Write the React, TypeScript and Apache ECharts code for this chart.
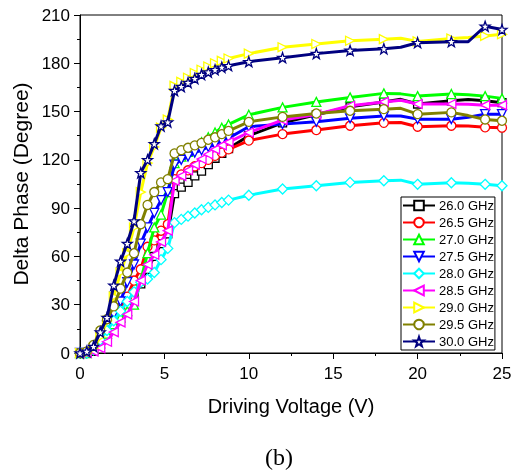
import React, { useEffect, useRef } from "react";
import * as echarts from "echarts";

const voltages = [0, 0.4, 0.8, 1.2, 1.6, 2.0, 2.4, 2.8, 3.2, 3.6, 4.0, 4.4, 4.8, 5.2, 5.6, 6.0, 6.4, 6.8, 7.2, 7.6, 8.0, 8.4, 8.8, 10, 12, 14, 16, 18, 19, 20, 22, 23, 24, 25];
const unmarkedVoltages = [19, 23];

const seriesNames = ["26.0 GHz", "26.5 GHz", "27.0 GHz", "27.5 GHz", "28.0 GHz", "28.5 GHz", "29.0 GHz", "29.5 GHz", "30.0 GHz"];

const phase260 = [0, 0, 1, 5, 10, 16, 22, 28, 35, 43, 52, 60, 68, 74, 99, 103, 106, 110, 113, 117, 121, 124, 127, 135, 143, 148, 153, 156, 157.6, 154.7, 156.7, 157.5, 156.7, 155.5];
const phase265 = [0, 0, 2, 7, 13, 20, 27, 35, 45, 52, 66, 70, 76, 80, 108, 111, 113.5, 116, 118, 120, 122.5, 124.5, 126.5, 132, 136, 138.5, 141.2, 143, 143.2, 140.6, 141.2, 141, 140.2, 140];
const phase270 = [0, 0, 2, 6, 12, 18, 22, 26, 30, 45, 62, 78, 86, 100, 118, 122, 125, 128, 131, 134, 137, 140, 142, 148, 152.6, 156, 158.8, 161.3, 161, 159.6, 160.9, 160.5, 159.6, 158.2];
const phase275 = [0, 0, 3, 10, 17, 24, 32, 44, 55, 68, 78, 87, 95, 100, 117, 120, 122, 124.5, 126, 128, 129.5, 131.5, 133.5, 140.6, 142.2, 143.7, 145.8, 147.2, 147.2, 145.3, 145.3, 146.5, 148.4, 148.4];
const phase280 = [0, 0, 2, 8, 14, 20, 26, 32, 38, 44, 46, 50, 58, 65, 81, 83, 85, 87, 89, 90.5, 92, 93.5, 95, 98, 101.9, 103.9, 106, 107, 107.4, 104.8, 105.8, 105.5, 104.8, 103.9];
const phase285 = [0, 0, 1, 3, 7, 13, 19, 24, 32, 45, 55, 61, 69, 76, 107, 110, 113.5, 117, 120.5, 123.5, 126.5, 129, 131, 137, 144.7, 148.2, 153.6, 156, 157, 154.7, 154.7, 154.5, 154, 154];
const phase290 = [0, 0, 3, 10, 20, 35, 50, 62, 78, 100, 118, 128, 140, 145, 166, 168.5, 171, 174, 176, 178, 180, 181.5, 183, 186, 190, 192, 194, 195, 195.5, 193.6, 195.4, 196, 197, 198];
const phase295 = [0, 1, 5, 14, 21, 29, 40, 50, 62, 80, 92, 100, 106, 108, 124, 126, 127.5, 129, 130.5, 132.5, 134, 136, 138, 143.6, 146.7, 148.8, 150.5, 151.5, 152, 148.4, 149.5, 147.5, 145.1, 144.3];
const phase300 = [0, 1, 4, 13, 22, 42, 57, 68, 82, 112, 120, 130, 141, 143.5, 163, 165.5, 168, 170.5, 173, 174.5, 176, 177.5, 178.5, 181, 183.5, 186, 188, 189, 190, 192.8, 193.4, 193.4, 203, 201];

const xTicks = { min: 0, max: 25, interval: 5 };
const yTicks = { min: 0, max: 210, interval: 30 };

const STAR = "path://M0,-10 L2.35,-3.24 9.51,-3.09 3.8,1.24 5.88,8.09 0,4 -5.88,8.09 -3.8,1.24 -9.51,-3.09 -2.35,-3.24Z";

const styles = [
  { color: "#000000", symbol: "rect", rotate: 0, size: 8 },
  { color: "#ff0000", symbol: "circle", rotate: 0, size: 9 },
  { color: "#00ff00", symbol: "triangle", rotate: 0, size: 9 },
  { color: "#0000ff", symbol: "triangle", rotate: 180, size: 9 },
  { color: "#00ffff", symbol: "diamond", rotate: 0, size: 10 },
  { color: "#ff00ff", symbol: "triangle", rotate: 90, size: 9 },
  { color: "#ffff00", symbol: "triangle", rotate: -90, size: 9 },
  { color: "#808000", symbol: "circle", rotate: 0, size: 9 },
  { color: "#000080", symbol: STAR, rotate: 0, size: 10 },
];

const allPhases = [phase260, phase265, phase270, phase275, phase280, phase285, phase290, phase295, phase300];

const FONT = '"Liberation Sans", Arial, sans-serif';

export default function App() {
  const ref = useRef<HTMLDivElement>(null);
  useEffect(() => {
    if (!ref.current) return;
    const chart = echarts.init(ref.current, null, { renderer: "svg" });
    const series = allPhases.map((vals, i) => {
      const st = styles[i];
      return {
        name: seriesNames[i],
        type: "line",
        data: voltages.map((v, j) =>
          unmarkedVoltages.includes(v)
            ? { value: [v, vals[j]], symbol: "none" }
            : { value: [v, vals[j]] }
        ),
        symbol: st.symbol,
        symbolSize: st.size,
        symbolRotate: st.rotate,
        showAllSymbol: true,
        lineStyle: { color: st.color, width: 3 },
        itemStyle: { color: "#ffffff", borderColor: st.color, borderWidth: 1.3 },
        emphasis: { disabled: true },
        clip: false,
        z: 2 + i,
      };
    });
    chart.setOption({
      animation: false,
      grid: { left: 80, right: 14, top: 15, bottom: 121, show: true, borderColor: "#000", borderWidth: 1, backgroundColor: "transparent" },
      xAxis: {
        type: "value",
        min: xTicks.min,
        max: xTicks.max,
        interval: xTicks.interval,
        name: "Driving Voltage (V)",
        nameLocation: "middle",
        nameGap: 43,
        nameTextStyle: { fontSize: 20, color: "#000", fontFamily: FONT },
        axisLine: { lineStyle: { color: "#000", width: 1 } },
        axisTick: { show: true, length: 6, lineStyle: { color: "#000" } },
        minorTick: { show: true, splitNumber: 2, length: 3, lineStyle: { color: "#000" } },
        axisLabel: { fontSize: 17, color: "#000", fontFamily: FONT, margin: 12 },
        splitLine: { show: false },
      },
      yAxis: {
        type: "value",
        min: yTicks.min,
        max: yTicks.max,
        interval: yTicks.interval,
        name: "Delta Phase (Degree)",
        nameLocation: "middle",
        nameGap: 48,
        nameTextStyle: { fontSize: 21, color: "#000", fontFamily: FONT },
        axisLine: { show: true, lineStyle: { color: "#000", width: 1 } },
        axisTick: { show: true, length: 6, lineStyle: { color: "#000" } },
        minorTick: { show: true, splitNumber: 2, length: 3, lineStyle: { color: "#000" } },
        axisLabel: { fontSize: 17, color: "#000", fontFamily: FONT, margin: 10 },
        splitLine: { show: false },
      },
      legend: {
        orient: "vertical",
        left: 401,
        top: 197,
        itemWidth: 32,
        itemHeight: 12,
        itemGap: 4,
        padding: [2, 1, 2, 1],
        borderColor: "#000",
        borderWidth: 1,
        backgroundColor: "#fff",
        borderRadius: 0,
        textStyle: { fontSize: 13, color: "#000", fontFamily: FONT, padding: [0, 0, 0, -1] },
        data: seriesNames,
      },
      graphic: [
        {
          type: "text",
          x: 279,
          y: 457,
          style: {
            text: "(b)",
            font: '24px "Liberation Serif", "Times New Roman", serif',
            fill: "#000",
            align: "center",
            verticalAlign: "middle",
            textAlign: "center",
            textVerticalAlign: "middle",
          },
        },
      ],
      series,
    });
    return () => chart.dispose();
  }, []);
  return <div ref={ref} style={{ position: "fixed", left: 0, top: 0, width: 516, height: 474 }} />;
}
